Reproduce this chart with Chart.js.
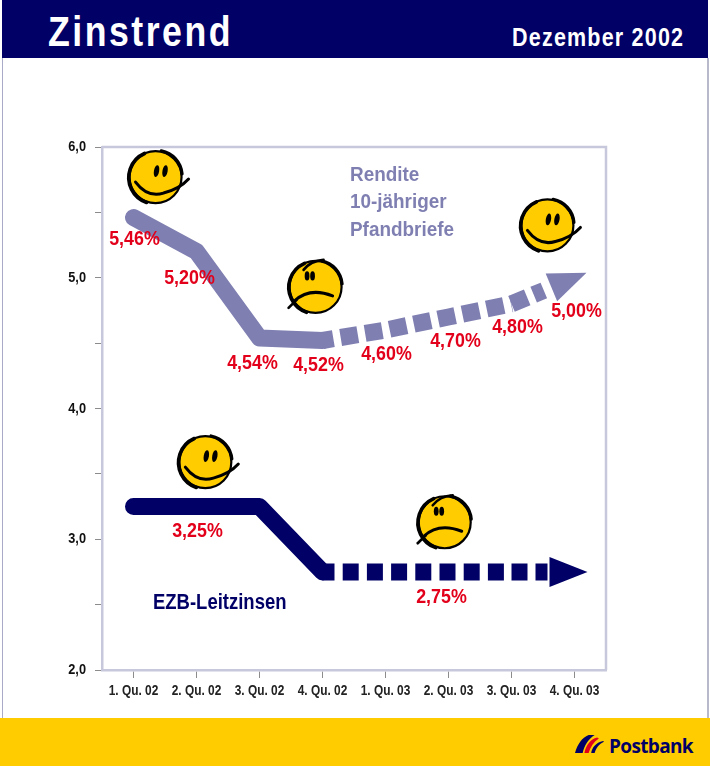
<!DOCTYPE html>
<html><head><meta charset="utf-8">
<script src="https://cdn.jsdelivr.net/npm/chart.js@4"></script>
<style>
html,body{margin:0;padding:0;background:#fff;}
#page{position:relative;width:710px;height:766px;overflow:hidden;font-family:"Liberation Sans",sans-serif;}
#head{position:absolute;left:2px;top:0;width:706px;height:58px;background:#000066;color:#fff;font-weight:bold;}
#t1{position:absolute;left:46px;top:6px;font-size:43px;line-height:50px;letter-spacing:3px;transform:scaleX(.83);transform-origin:0 50%;white-space:nowrap;}
#t2{position:absolute;right:24px;top:22px;font-size:25px;line-height:30px;letter-spacing:1.4px;transform:scaleX(.86);transform-origin:100% 50%;white-space:nowrap;}
#foot{position:absolute;left:0;top:718px;width:710px;height:48px;background:#FFCC00;}
#pb{position:absolute;left:609px;top:15px;font:bold 19px "Open Sans",sans-serif;color:#000066;line-height:26px;letter-spacing:-.65px;}
#logo{position:absolute;left:575px;top:17px;}
#edgeL{position:absolute;left:2px;top:58px;width:1px;height:660px;background:#A9A9C8;}
#edgeR{position:absolute;left:707px;top:58px;width:2px;height:660px;background:#B9B9CC;}
canvas{position:absolute;left:0;top:0;}
</style></head>
<body>
<div id="page">
<div id="edgeL"></div><div id="edgeR"></div>
<div style="position:absolute;left:0;top:0;width:710px;height:766px"><canvas id="c" width="710" height="766"></canvas></div>
<div id="head"><div id="t1">Zinstrend</div><div id="t2">Dezember 2002</div></div>
<div id="foot">
<svg id="logo" width="29" height="18" viewBox="0 0 34 21">
<path d="M0 21 C3 11 8 3 16 0 L23 0 C15 5 11 13 9 21 Z" fill="#000066"/>
<path d="M11 21 C13 12 18 5 26 3 L28 4 C22 8 18 14 16 21 Z" fill="#E2001A"/>
<path d="M19 21 C20 15 24 9 33 7 L34 8 C28 11 25 15 23 21 Z" fill="#000066"/>
</svg>
<div id="pb">Postbank</div></div>
</div>
<script>
const categories=['1. Qu. 02','2. Qu. 02','3. Qu. 02','4. Qu. 02','1. Qu. 03','2. Qu. 03','3. Qu. 03','4. Qu. 03'];
const rendite=[5.46,5.20,4.54,4.52,4.60,4.70,4.80,5.00];
const leitzins=[3.25,3.25,3.25,2.75,2.75,2.75,2.75,2.75];
const renditeLabels=['5,46%','5,20%','4,54%','4,52%','4,60%','4,70%','4,80%','5,00%'];
const renditeLabelDx=[1,-7,-7,-4,1,7,6,2];
const renditeLabelDy=[22,27,25,25,24,24,23,33];
const leitzinsLabelIndex=[1,4];
const leitzinsLabelText=['3,25%','2,75%'];
const leitzinsLabelDx=[1,56];
const leitzinsLabelDy=[25,25];
const smileyX=[0.35,2.89,6.57,1.14,4.94];
const smileyY=[5.77,4.93,5.40,3.59,3.13];
const smileyMood=[1,0,1,1,0];
const NAVY='#000066',LILAC='#7F7FB2',RED='#E2001A',AXIS='#C8C8DC',TICK='#8C8C8C';
const FONT='"Liberation Sans",sans-serif';

function smiley(ctx,cx,cy,r,happy){
  ctx.save();ctx.translate(cx,cy);ctx.lineCap='round';ctx.lineJoin='round';
  ctx.beginPath();ctx.arc(0,0,r,0,Math.PI*2);ctx.fillStyle='#FFCC00';ctx.fill();
  ctx.strokeStyle='#000';ctx.lineWidth=2.2;ctx.stroke();
  ctx.beginPath();ctx.arc(-.5,.5,r+.3,1.9,4.3);ctx.lineWidth=3.6;ctx.stroke();
  ctx.beginPath();ctx.arc(1,-1,r-.4,4.9,6.2);ctx.lineWidth=3.2;ctx.stroke();
  ctx.fillStyle='#000';
  const eye=(x,y,rx,ry,rot)=>{ctx.beginPath();ctx.ellipse(x,y,rx,ry,rot,0,Math.PI*2);ctx.fill();};
  if(happy){
    eye(1,-6,2.6,6,.18);eye(9.5,-6,2.6,6,.18);
    ctx.beginPath();ctx.moveTo(-20,5);ctx.quadraticCurveTo(-8,21,8,16);ctx.quadraticCurveTo(24,12,33,2);
    ctx.lineWidth=3;ctx.stroke();
  }else{
    eye(-8.5,-11,2.4,4.6,0);eye(-3,-11,2.4,4.6,0);
    ctx.beginPath();ctx.moveTo(-21,14);ctx.quadraticCurveTo(-6,0,17,9);ctx.lineWidth=3;ctx.stroke();
    ctx.beginPath();ctx.moveTo(-12,-17);ctx.quadraticCurveTo(-5,-26,8,-27);ctx.lineWidth=2.6;ctx.stroke();
    ctx.beginPath();ctx.moveTo(-19,13);ctx.lineTo(-27,21);ctx.lineWidth=2.6;ctx.stroke();
  }
  ctx.restore();
}
function arrow(ctx,meta,color){
  const n=meta.data.length,a=meta.data[n-2],b=meta.data[n-1];
  const ang=Math.atan2(b.y-a.y,b.x-a.x);
  ctx.save();ctx.translate(b.x,b.y);ctx.rotate(ang);
  ctx.beginPath();ctx.moveTo(13,0);ctx.lineTo(-25,-15);ctx.lineTo(-25,15);ctx.closePath();
  ctx.fillStyle=color;ctx.fill();ctx.restore();
}
let textK=.85;
const decor={id:'decor',
  install(chart){
    const ctx=chart.ctx,f=ctx.fillText;
    ctx.fillText=function(t,x,y,m){this.save();this.translate(x,y);this.scale(textK,1);f.call(this,t,0,0);this.restore();};
  },
  beforeDatasetsDraw(chart){
    const {ctx,chartArea:c}=chart;ctx.save();
    ctx.strokeStyle=AXIS;ctx.lineWidth=2.5;
    ctx.beginPath();ctx.moveTo(c.left,c.top);ctx.lineTo(c.right,c.top);ctx.lineTo(c.right,c.bottom);ctx.stroke();
    ctx.restore();
  },
  afterDatasetsDraw(chart){
    const {ctx,scales:{x,y}}=chart;
    arrow(ctx,chart.getDatasetMeta(0),LILAC);
    arrow(ctx,chart.getDatasetMeta(1),NAVY);
    smileyX.forEach((v,i)=>smiley(ctx,x.getPixelForValue(v),y.getPixelForValue(smileyY[i]),26,smileyMood[i]));
    ctx.save();ctx.textAlign='center';ctx.textBaseline='middle';
    ctx.font='bold 21px '+FONT;ctx.fillStyle=RED;
    const m0=chart.getDatasetMeta(0).data,m1=chart.getDatasetMeta(1).data;
    renditeLabels.forEach((t,i)=>ctx.fillText(t,m0[i].x+renditeLabelDx[i],m0[i].y+renditeLabelDy[i]));
    leitzinsLabelIndex.forEach((k,i)=>ctx.fillText(leitzinsLabelText[i],m1[k].x+leitzinsLabelDx[i],m1[k].y+leitzinsLabelDy[i]));
    ctx.textAlign='left';ctx.font='bold 21px '+FONT;ctx.fillStyle=LILAC;
    textK=.9;
    ['Rendite','10-jähriger','Pfandbriefe'].forEach((t,i)=>ctx.fillText(t,350,175+i*27.5));
    textK=.84;
    ctx.font='bold 22px '+FONT;ctx.fillStyle=NAVY;ctx.fillText('EZB-Leitzinsen',153,603);
    textK=.85;
    ctx.restore();
  }
};
const seg=(dash,off,last)=>({
  borderDash:c=>c.p0DataIndex>=6?last:c.p0DataIndex>=3?dash:[],
  borderDashOffset:c=>c.p0DataIndex>=6?0:c.p0DataIndex>=3?off:0,
  borderCapStyle:c=>c.p0DataIndex>=3?'butt':'round'
});
new Chart(document.getElementById('c'),{
  type:'line',
  data:{labels:categories,datasets:[
    {label:'Rendite 10-jähriger Pfandbriefe',data:rendite,borderColor:LILAC,borderWidth:17,pointRadius:0,tension:0,borderJoinStyle:'round',borderCapStyle:'round',segment:seg([17.4,7.4],6.4,[17,7,11,200])},
    {label:'EZB-Leitzinsen',data:leitzins,borderColor:NAVY,borderWidth:17,pointRadius:0,tension:0,borderJoinStyle:'round',borderCapStyle:'round',segment:seg([16,8.2],4,[16,8,12,200])}
  ]},
  options:{responsive:false,animation:false,
    layout:{padding:{left:62,right:104,top:147,bottom:56}},
    plugins:{legend:{display:false},tooltip:{enabled:false}},
    scales:{
      x:{offset:true,
        afterFit:s=>{s.height=40;},
        border:{color:AXIS,width:2.5},
        grid:{drawOnChartArea:false,drawTicks:true,tickLength:8,tickColor:TICK},
        ticks:{maxRotation:0,autoSkip:false,color:'#222',padding:5,font:{family:FONT,size:14,weight:'bold'}}},
      y:{min:2,max:6,
        afterFit:s=>{s.width=40;},
        border:{color:AXIS,width:2.5},
        grid:{drawOnChartArea:false,drawTicks:true,tickLength:7,tickColor:TICK},
        ticks:{stepSize:.5,padding:9,color:'#111',font:{family:FONT,size:15,weight:'bold'},
          callback:v=>Number.isInteger(v)?v.toFixed(1).replace('.',','):''}}
    }
  },
  plugins:[decor]
});
</script>
</body></html>
